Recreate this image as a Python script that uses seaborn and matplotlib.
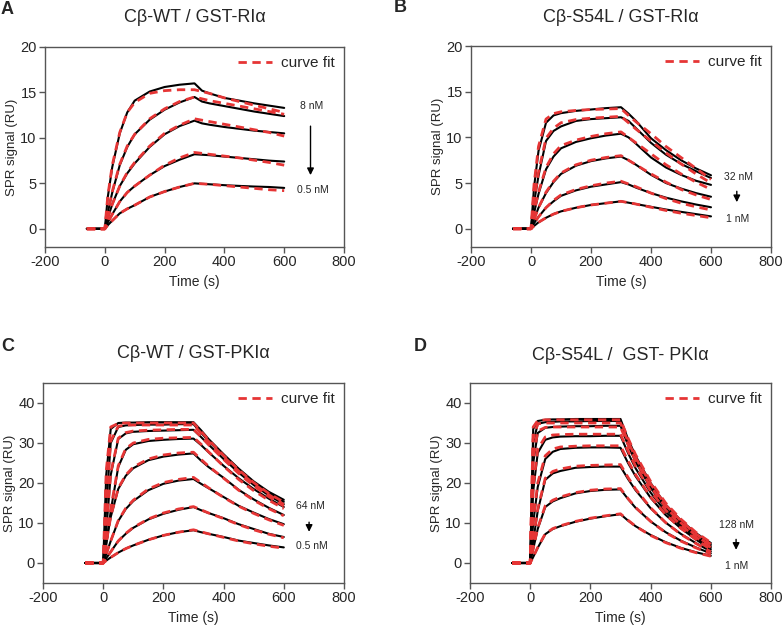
import pandas as pd
import numpy as np
import matplotlib
matplotlib.use('Agg')
import matplotlib.pyplot as plt
from matplotlib.lines import Line2D
import seaborn as sns

# time points (s)
T = [-60, 0, 10, 25, 50, 75, 100, 150, 200, 250, 300, 325, 350, 400, 450, 500, 550, 600]

# panel A: Cb-WT / GST-RIa, 8 nM -> 0.5 nM
A_data = [
    [0, 0, 3.5, 6.8, 10.5, 12.8, 14.1, 15.1, 15.6, 15.85, 16.0, 15.2, 14.9, 14.4, 14.1, 13.8, 13.55, 13.3],
    [0, 0, 1.8, 4.0, 7.0, 9.0, 10.4, 12.0, 13.1, 13.9, 14.5, 14.0, 13.8, 13.5, 13.2, 12.9, 12.65, 12.4],
    [0, 0, 1.2, 2.7, 4.7, 6.1, 7.2, 9.0, 10.4, 11.3, 11.9, 11.6, 11.45, 11.2, 11.0, 10.8, 10.65, 10.5],
    [0, 0, 0.7, 1.6, 3.0, 4.0, 4.7, 5.9, 6.9, 7.6, 8.2, 8.15, 8.1, 7.95, 7.8, 7.65, 7.5, 7.4],
    [0, 0, 0.4, 0.9, 1.7, 2.2, 2.6, 3.5, 4.1, 4.6, 5.0, 4.95, 4.9, 4.8, 4.72, 4.65, 4.6, 4.5],
]
A_fit = [
    [0, 0, 3.6, 7.0, 10.6, 12.8, 13.9, 14.9, 15.2, 15.3, 15.3, 15.1, 14.9, 14.4, 14.0, 13.6, 13.2, 12.8],
    [0, 0, 1.8, 4.1, 7.1, 9.1, 10.4, 12.1, 13.2, 14.0, 14.5, 14.3, 14.1, 13.8, 13.5, 13.2, 12.9, 12.6],
    [0, 0, 1.2, 2.7, 4.7, 6.2, 7.3, 9.1, 10.5, 11.4, 12.1, 11.95, 11.8, 11.5, 11.2, 10.9, 10.6, 10.2],
    [0, 0, 0.7, 1.6, 3.0, 4.0, 4.7, 5.9, 7.0, 7.8, 8.4, 8.3, 8.2, 8.0, 7.8, 7.55, 7.3, 7.0],
    [0, 0, 0.4, 0.9, 1.7, 2.2, 2.6, 3.5, 4.1, 4.6, 5.0, 4.95, 4.9, 4.75, 4.6, 4.45, 4.3, 4.2],
]

# panel B: Cb-S54L / GST-RIa, 32 nM -> 1 nM
B_data = [
    [0, 0, 4.5, 8.5, 11.6, 12.4, 12.65, 12.9, 13.05, 13.2, 13.3, 12.6, 11.8, 9.9, 8.6, 7.5, 6.6, 5.85],
    [0, 0, 2.8, 5.8, 9.6, 10.7, 11.2, 11.8, 12.0, 12.1, 12.2, 11.8, 11.0, 9.4, 8.1, 7.1, 6.3, 5.55],
    [0, 0, 1.7, 3.8, 6.5, 7.9, 8.8, 9.5, 9.9, 10.2, 10.4, 10.0, 9.3, 7.8, 6.7, 5.9, 5.25, 4.8],
    [0, 0, 1.0, 2.3, 3.9, 5.1, 6.0, 6.9, 7.4, 7.7, 7.9, 7.5, 7.0, 5.9, 5.0, 4.4, 3.9, 3.5],
    [0, 0, 0.6, 1.3, 2.3, 3.0, 3.6, 4.2, 4.6, 4.85, 5.1, 4.85, 4.5, 3.9, 3.4, 3.0, 2.65, 2.35],
    [0, 0, 0.3, 0.7, 1.2, 1.6, 1.9, 2.3, 2.6, 2.8, 3.0, 2.85, 2.7, 2.4, 2.1, 1.85, 1.6, 1.35],
]
B_fit = [
    [0, 0, 4.8, 9.0, 12.0, 12.6, 12.8, 12.95, 13.05, 13.1, 13.15, 12.4, 11.7, 10.4, 9.0, 7.8, 6.6, 5.4],
    [0, 0, 3.0, 6.2, 9.9, 11.0, 11.6, 11.95, 12.1, 12.2, 12.3, 11.6, 10.9, 9.6, 8.3, 7.1, 6.0, 5.0],
    [0, 0, 1.8, 4.0, 6.7, 8.2, 9.1, 9.7, 10.1, 10.4, 10.6, 10.0, 9.4, 8.2, 7.0, 6.0, 5.1, 4.3],
    [0, 0, 1.0, 2.3, 4.0, 5.2, 6.1, 7.0, 7.5, 7.8, 8.0, 7.5, 7.0, 6.0, 5.1, 4.3, 3.7, 3.2],
    [0, 0, 0.6, 1.3, 2.3, 3.1, 3.7, 4.3, 4.7, 5.0, 5.2, 4.9, 4.6, 3.9, 3.3, 2.8, 2.4, 2.05],
    [0, 0, 0.3, 0.7, 1.2, 1.6, 1.9, 2.3, 2.6, 2.8, 3.0, 2.85, 2.7, 2.35, 2.0, 1.7, 1.45, 1.2],
]

# panel C: Cb-WT / GST-PKIa, 64 nM -> 0.5 nM
C_data = [
    [0, 0, 22.0, 33.5, 35.0, 35.1, 35.1, 35.2, 35.2, 35.2, 35.2, 33.2, 31.0, 27.2, 23.6, 20.4, 17.8, 15.8],
    [0, 0, 14.0, 30.0, 34.0, 34.4, 34.5, 34.6, 34.6, 34.7, 34.7, 32.6, 30.5, 26.8, 23.2, 20.0, 17.4, 15.3],
    [0, 0, 8.0, 22.0, 31.0, 32.4, 32.8, 33.0, 33.1, 33.2, 33.3, 31.5, 29.6, 26.0, 22.6, 19.5, 16.9, 14.7],
    [0, 0, 4.5, 13.0, 24.0, 28.3, 29.7, 30.5, 30.8, 31.0, 31.1, 29.5, 27.7, 24.3, 21.2, 18.5, 16.1, 14.0],
    [0, 0, 5.0, 11.5, 18.5, 21.8, 23.7, 25.7, 26.6, 27.1, 27.4, 25.6, 24.0, 21.3, 18.3, 15.9, 13.8, 12.0],
    [0, 0, 2.2, 5.5, 10.5, 13.5, 15.5, 18.2, 19.8, 20.6, 21.0, 19.8, 18.7, 16.5, 14.3, 12.6, 11.0, 9.7],
    [0, 0, 1.2, 2.8, 5.5, 7.3, 8.8, 10.9, 12.3, 13.3, 14.0, 13.2, 12.5, 11.2, 9.7, 8.5, 7.3, 6.5],
    [0, 0, 0.6, 1.4, 2.6, 3.6, 4.4, 5.8, 6.9, 7.7, 8.2, 7.7, 7.3, 6.5, 5.6, 5.0, 4.4, 3.9],
]
C_fit = [
    [0, 0, 23.0, 34.0, 34.9, 35.0, 35.0, 35.0, 35.0, 35.0, 35.0, 32.9, 30.8, 26.9, 23.3, 20.1, 17.4, 15.2],
    [0, 0, 15.0, 30.5, 34.2, 34.5, 34.5, 34.5, 34.5, 34.5, 34.5, 32.5, 30.4, 26.6, 23.0, 19.8, 17.1, 14.6],
    [0, 0, 8.5, 22.5, 31.2, 32.6, 33.0, 33.2, 33.3, 33.4, 33.4, 31.6, 29.6, 25.9, 22.4, 19.3, 16.6, 14.2],
    [0, 0, 4.8, 13.5, 24.3, 28.6, 30.0, 30.9, 31.2, 31.3, 31.4, 29.7, 27.8, 24.2, 20.9, 18.1, 15.7, 13.6],
    [0, 0, 5.0, 11.6, 18.7, 22.0, 24.0, 26.0, 27.0, 27.5, 27.7, 25.9, 24.2, 21.2, 18.2, 15.7, 13.6, 11.8],
    [0, 0, 2.2, 5.5, 10.6, 13.7, 15.7, 18.5, 20.1, 20.9, 21.4, 20.1, 18.8, 16.4, 14.2, 12.4, 10.8, 9.4],
    [0, 0, 1.2, 2.8, 5.5, 7.4, 8.9, 11.0, 12.5, 13.5, 14.1, 13.3, 12.5, 11.1, 9.6, 8.3, 7.2, 6.3],
    [0, 0, 0.6, 1.4, 2.6, 3.6, 4.4, 5.8, 6.9, 7.7, 8.3, 7.8, 7.3, 6.4, 5.5, 4.8, 4.2, 3.7],
]

# panel D: Cb-S54L / GST-PKIa, 128 nM -> 1 nM
D_data = [
    [0, 0, 33.5, 35.5, 35.8, 35.9, 35.9, 36.0, 36.0, 36.0, 36.0, 31.0, 26.8, 20.0, 14.6, 10.7, 7.5, 5.0],
    [0, 0, 30.0, 34.8, 35.2, 35.3, 35.4, 35.4, 35.5, 35.5, 35.5, 30.5, 26.3, 19.5, 14.2, 10.3, 7.1, 4.6],
    [0, 0, 25.0, 32.5, 33.8, 34.0, 34.1, 34.2, 34.2, 34.3, 34.3, 29.5, 25.3, 18.8, 13.6, 9.8, 6.7, 4.2],
    [0, 0, 18.0, 27.5, 30.8, 31.4, 31.6, 31.7, 31.7, 31.8, 31.8, 27.5, 23.7, 17.6, 12.8, 9.3, 6.3, 3.8],
    [0, 0, 10.0, 19.0, 26.0, 27.8, 28.5, 28.8, 28.9, 28.9, 28.8, 25.0, 21.7, 16.3, 12.0, 8.7, 5.9, 3.4],
    [0, 0, 5.5, 13.0, 20.8, 22.4, 23.0, 23.8, 24.0, 24.1, 24.1, 21.0, 18.2, 13.7, 10.1, 7.3, 5.0, 2.9],
    [0, 0, 3.5, 8.5, 14.0, 15.4, 16.2, 17.4, 18.0, 18.3, 18.4, 16.0, 13.8, 10.4, 7.7, 5.6, 3.9, 2.4],
    [0, 0, 1.5, 3.8, 7.2, 8.5, 9.2, 10.3, 11.1, 11.7, 12.2, 10.6, 9.2, 7.0, 5.2, 3.8, 2.7, 1.8],
]
D_fit = [
    [0, 0, 34.0, 35.6, 35.8, 35.8, 35.8, 35.8, 35.8, 35.8, 35.8, 31.2, 27.1, 20.4, 15.0, 11.0, 7.7, 5.1],
    [0, 0, 31.0, 34.8, 35.0, 35.0, 35.0, 35.0, 35.0, 35.0, 35.0, 30.4, 26.4, 19.8, 14.5, 10.6, 7.3, 4.7],
    [0, 0, 26.0, 33.0, 33.9, 34.0, 34.0, 34.0, 34.0, 34.0, 34.0, 29.6, 25.6, 19.1, 14.0, 10.1, 6.9, 4.3],
    [0, 0, 19.0, 28.5, 31.5, 32.0, 32.1, 32.2, 32.2, 32.2, 32.2, 28.0, 24.2, 18.0, 13.2, 9.5, 6.5, 3.9],
    [0, 0, 10.5, 20.0, 26.8, 28.5, 29.0, 29.2, 29.3, 29.3, 29.3, 25.5, 22.1, 16.5, 12.1, 8.7, 5.9, 3.4],
    [0, 0, 5.8, 13.5, 21.2, 22.9, 23.5, 24.2, 24.4, 24.5, 24.6, 21.4, 18.5, 13.8, 10.1, 7.2, 4.9, 2.8],
    [0, 0, 3.6, 8.8, 14.3, 15.7, 16.5, 17.6, 18.2, 18.5, 18.6, 16.1, 13.9, 10.4, 7.6, 5.5, 3.8, 2.3],
    [0, 0, 1.5, 3.9, 7.3, 8.6, 9.3, 10.4, 11.2, 11.8, 12.3, 10.7, 9.2, 6.9, 5.1, 3.7, 2.6, 1.7],
]

titles = ['C\u03b2-WT / GST-RI\u03b1', 'C\u03b2-S54L / GST-RI\u03b1',
          'C\u03b2-WT / GST-PKI\u03b1', 'C\u03b2-S54L /  GST- PKI\u03b1']
letters = ['A', 'B', 'C', 'D']
conc_hi = ['8 nM', '32 nM', '64 nM', '128 nM']
conc_lo = ['0.5 nM', '1 nM', '0.5 nM', '1 nM']

RED = '#e63535'

sns.set_style('ticks')
plt.rcParams['font.family'] = ['Liberation Sans', 'DejaVu Sans']
plt.rcParams['axes.unicode_minus'] = False


def to_long(curves):
    rows = []
    for i, vals in enumerate(curves):
        for t, v in zip(T, vals):
            rows.append((i, t, v))
    return pd.DataFrame(rows, columns=['curve', 'time', 'signal'])


fig = plt.figure(figsize=(7.84, 6.29), dpi=100)
W, H = 784, 629

# axes boxes in pixels: left, top, right, bottom
boxes = [(45, 47, 344, 247), (471, 46, 771, 247), (43, 383, 344, 583), (470, 383, 771, 583)]
ylims = [(-2, 20), (-2, 20), (-5, 45), (-5, 45)]
yticks = [[0, 5, 10, 15, 20], [0, 5, 10, 15, 20], [0, 10, 20, 30, 40], [0, 10, 20, 30, 40]]
title_y = [17, 17, 353, 355]
letter_xy = [(7, 9), (400, 8), (8, 346), (420, 346)]
# annotation positions (data coords)
hi_pos = [(692, 13.5), (690, 5.7), (687, 14.2), (687, 9.4)]
lo_pos = [(697, 4.3), (690, 1.1), (692, 4.2), (687, -0.7)]
arrow_pos = [(688, 11.6, 5.6), (686, 4.4, 2.6), (684, 10.9, 7.1), (684, 6.6, 2.6)]

datasets = [(A_data, A_fit), (B_data, B_fit), (C_data, C_fit), (D_data, D_fit)]

for k, (data, fit) in enumerate(datasets):
    l, t, r, b = boxes[k]
    ax = fig.add_axes([l / W, 1 - b / H, (r - l) / W, (b - t) / H])
    sns.lineplot(data=to_long(data), x='time', y='signal', units='curve', estimator=None,
                 color='black', lw=1.5, ax=ax, legend=False)
    sns.lineplot(data=to_long(fit), x='time', y='signal', units='curve', estimator=None,
                 color=RED, lw=2.0, linestyle=(0, (3, 2)), ax=ax, legend=False)
    ax.set_xlim(-200, 800)
    ax.set_ylim(*ylims[k])
    ax.set_xticks([-200, 0, 200, 400, 600, 800])
    ax.set_yticks(yticks[k])
    ax.set_xlabel('Time (s)', fontsize=10, labelpad=4)
    ax.set_ylabel('SPR signal (RU)', fontsize=9.5, labelpad=2)
    ax.tick_params(labelsize=10.5, length=4, width=1, color='#555555', pad=2)
    for s in ax.spines.values():
        s.set_color('#555555')
        s.set_linewidth(1)

    h = [Line2D([0], [0], color=RED, lw=2.0, linestyle=(0, (3, 2)))]
    ax.legend(h, ['curve fit'], loc='upper right', frameon=False, fontsize=11,
              handlelength=2.2, handletextpad=0.6, borderaxespad=0.2)

    ax.text(hi_pos[k][0], hi_pos[k][1], conc_hi[k], fontsize=7.5, ha='center', va='center')
    ax.text(lo_pos[k][0], lo_pos[k][1], conc_lo[k], fontsize=7.5, ha='center', va='center')
    ax_x, y0, y1 = arrow_pos[k]
    ax.annotate('', xy=(ax_x, y1), xytext=(ax_x, y0),
                arrowprops=dict(arrowstyle='-|>', color='black', lw=1, mutation_scale=10))

    fig.text((l + r) / 2 / W, 1 - title_y[k] / H, titles[k], fontsize=13,
             ha='center', va='center')
    fig.text(letter_xy[k][0] / W, 1 - letter_xy[k][1] / H, letters[k], fontsize=13,
             fontweight='bold', ha='center', va='center')

fig.savefig('out.png', dpi=100)
